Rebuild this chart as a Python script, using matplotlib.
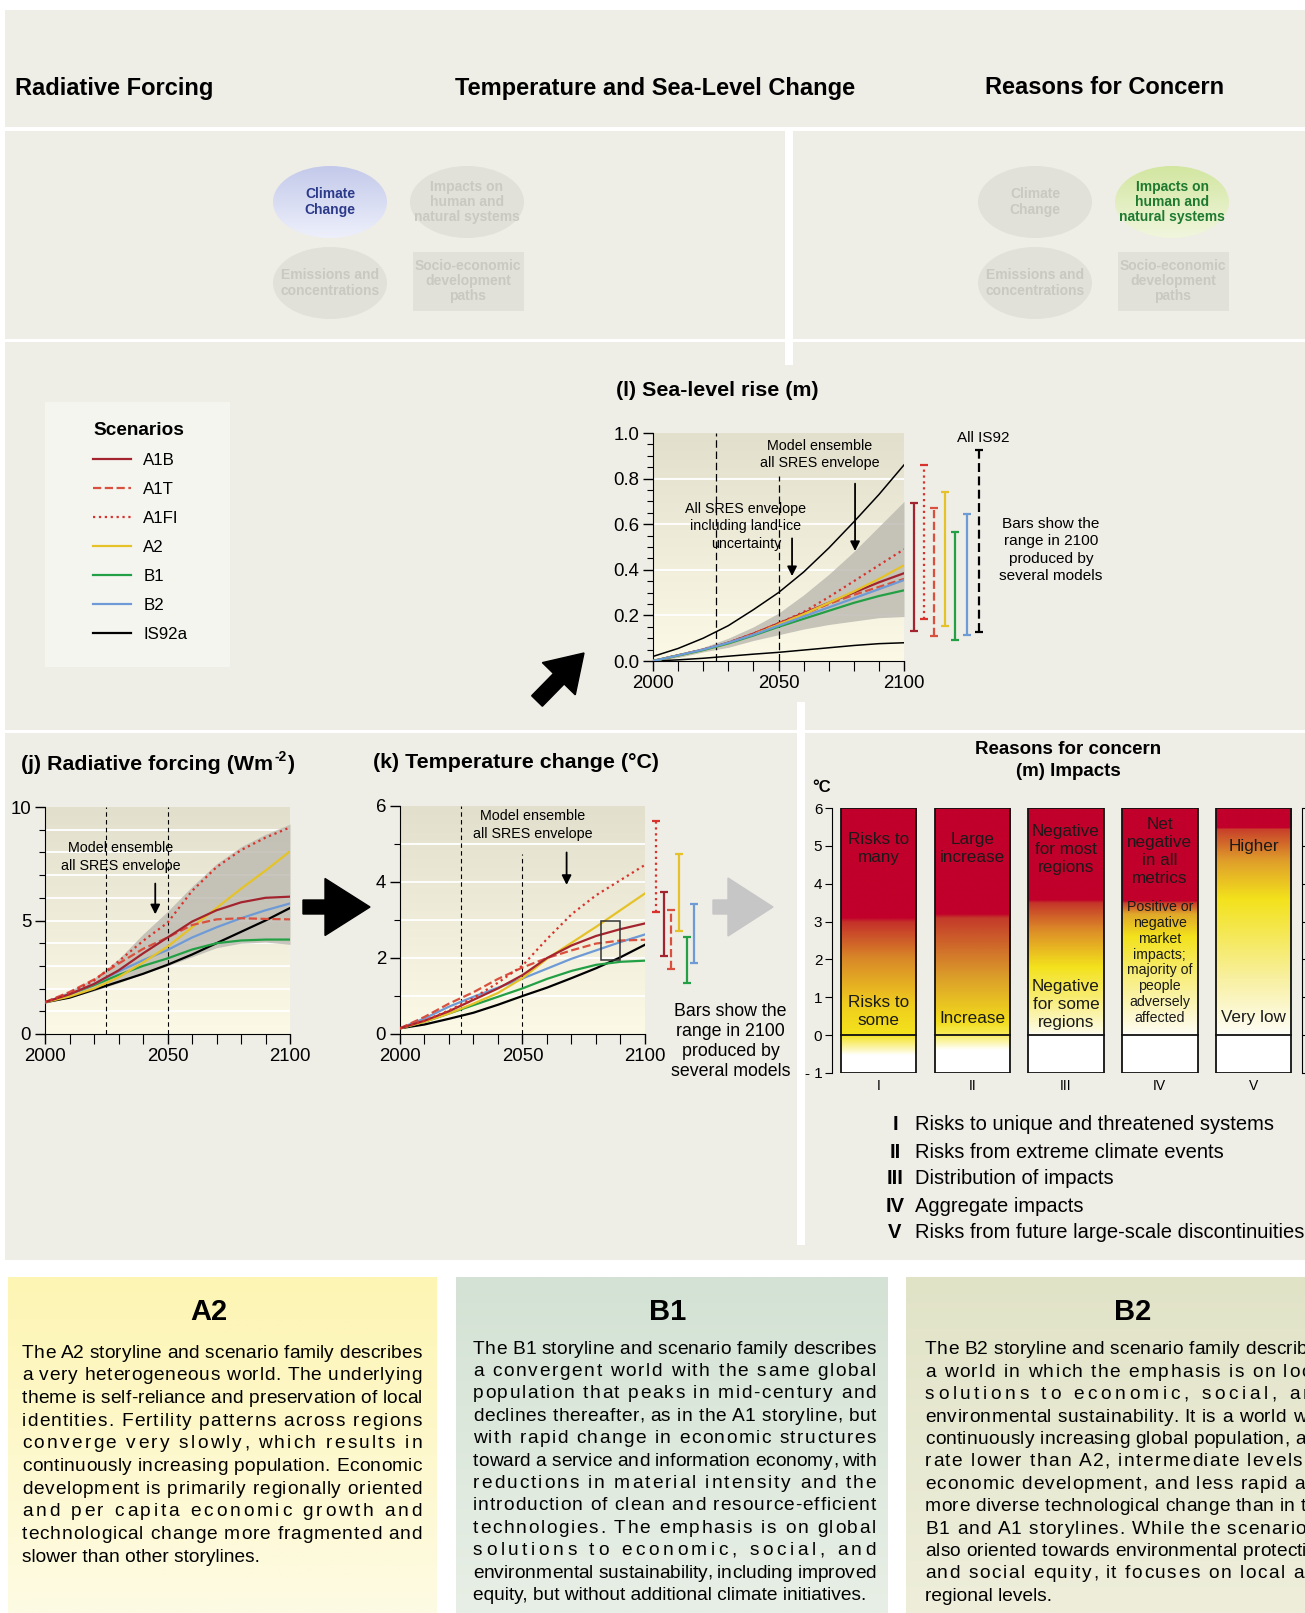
import numpy as np
import matplotlib
matplotlib.use('Agg')
import matplotlib.pyplot as plt
from matplotlib import font_manager
from matplotlib.patches import Rectangle, Ellipse, FancyArrow
from matplotlib.colors import LinearSegmentedColormap

plt.rcParams['font.family'] = ['Liberation Sans', 'DejaVu Sans']
installed = {f.name for f in font_manager.fontManager.ttflist}
NARROW = 'Liberation Sans Narrow' if 'Liberation Sans Narrow' in installed else 'Liberation Sans'

W, H = 1305, 1613

# ---------------------------------------------------------------- data
YEARS = [2000, 2010, 2020, 2030, 2040, 2050, 2060, 2070, 2080, 2090, 2100]
SCENARIOS = ['A1B', 'A1T', 'A1FI', 'A2', 'B1', 'B2', 'IS92a']

# (j) radiative forcing, W m-2
RF_A1B = [1.4, 1.75, 2.2, 2.8, 3.55, 4.25, 4.95, 5.45, 5.8, 6.0, 6.05]
RF_A1T = [1.4, 1.85, 2.4, 3.1, 3.75, 4.25, 4.8, 5.05, 5.1, 5.07, 5.05]
RF_A1FI = [1.4, 1.8, 2.35, 3.2, 4.1, 4.9, 6.3, 7.35, 8.1, 8.65, 9.1]
RF_A2 = [1.4, 1.65, 2.0, 2.5, 3.15, 3.85, 4.7, 5.55, 6.4, 7.2, 8.05]
RF_B1 = [1.4, 1.75, 2.15, 2.6, 3.0, 3.33, 3.72, 4.0, 4.12, 4.16, 4.16]
RF_B2 = [1.4, 1.75, 2.2, 2.75, 3.25, 3.7, 4.25, 4.7, 5.1, 5.45, 5.75]
RF_IS92A = [1.4, 1.6, 1.95, 2.3, 2.65, 3.05, 3.5, 4.0, 4.5, 5.0, 5.55]
RF_ENV_HI = [1.45, 1.9, 2.45, 3.3, 4.4, 5.4, 6.5, 7.5, 8.25, 8.8, 9.25]
RF_ENV_LO = [1.35, 1.6, 1.9, 2.25, 2.65, 3.0, 3.4, 3.8, 4.0, 4.05, 3.95]

# (k) temperature change, deg C
T_A1B = [0.15, 0.35, 0.6, 0.9, 1.2, 1.55, 2.0, 2.33, 2.58, 2.76, 2.91]
T_A1T = [0.15, 0.45, 0.8, 1.1, 1.45, 1.75, 2.0, 2.2, 2.38, 2.46, 2.48]
T_A1FI = [0.15, 0.35, 0.62, 0.95, 1.35, 1.8, 2.5, 3.15, 3.65, 4.05, 4.45]
T_A2 = [0.15, 0.32, 0.54, 0.8, 1.08, 1.47, 1.98, 2.4, 2.82, 3.26, 3.7]
T_B1 = [0.15, 0.32, 0.54, 0.76, 0.98, 1.2, 1.45, 1.66, 1.82, 1.9, 1.93]
T_B2 = [0.15, 0.41, 0.72, 0.98, 1.22, 1.46, 1.72, 1.98, 2.2, 2.42, 2.62]
T_IS92A = [0.15, 0.25, 0.4, 0.56, 0.77, 1.0, 1.22, 1.47, 1.73, 2.02, 2.35]
# 2100 ranges
T_BAR_NAMES = ['A1FI', 'A1B', 'A1T', 'A2', 'B1', 'B2']
T_BAR_HI = [5.61, 3.75, 3.26, 4.74, 2.55, 3.41]
T_BAR_LO = [3.21, 2.04, 1.72, 2.72, 1.33, 1.88]
T_BOX = [2082, 2090, 1.95, 2.98]

# (l) sea-level rise, m
SL_A1B = [0, 0.025, 0.05, 0.08, 0.12, 0.165, 0.21, 0.255, 0.30, 0.345, 0.385]
SL_A1T = [0, 0.025, 0.05, 0.08, 0.12, 0.165, 0.205, 0.25, 0.29, 0.325, 0.36]
SL_A1FI = [0, 0.025, 0.05, 0.08, 0.12, 0.165, 0.215, 0.28, 0.35, 0.42, 0.49]
SL_A2 = [0, 0.024, 0.048, 0.077, 0.115, 0.16, 0.205, 0.255, 0.305, 0.36, 0.42]
SL_B1 = [0, 0.024, 0.048, 0.077, 0.112, 0.15, 0.185, 0.22, 0.255, 0.285, 0.31]
SL_B2 = [0, 0.025, 0.05, 0.08, 0.115, 0.155, 0.195, 0.235, 0.275, 0.315, 0.355]
SL_ENV_HI = [0.01, 0.03, 0.06, 0.10, 0.15, 0.21, 0.29, 0.38, 0.48, 0.59, 0.70]
SL_ENV_LO = [0.0, 0.015, 0.04, 0.06, 0.09, 0.115, 0.14, 0.16, 0.175, 0.19, 0.195]
SL_ICE_HI = [0.02, 0.055, 0.10, 0.155, 0.225, 0.30, 0.39, 0.495, 0.61, 0.73, 0.86]
SL_ICE_LO = [0.0, 0.005, 0.012, 0.021, 0.03, 0.038, 0.048, 0.058, 0.068, 0.076, 0.08]
SL_BAR_NAMES = ['A1B', 'A1FI', 'A1T', 'A2', 'B1', 'B2', 'IS92a']
SL_BAR_HI = [0.695, 0.858, 0.67, 0.742, 0.565, 0.644, 0.925]
SL_BAR_LO = [0.13, 0.183, 0.11, 0.154, 0.092, 0.113, 0.129]

# (m) reasons for concern
RFC_LABELS = ['I', 'II', 'III', 'IV', 'V']
RFC_TOP_TEXT = ['Risks to\nmany', 'Large\nincrease', 'Negative\nfor most\nregions',
                'Net\nnegative\nin all\nmetrics', 'Higher']
RFC_TOP_Y = [4.93, 4.93, 4.9, 4.86, 4.97]
RFC_LOW_TEXT = ['Risks to\nsome', 'Increase', 'Negative\nfor some\nregions',
                'Positive or\nnegative\nmarket\nimpacts;\nmajority of\npeople\nadversely\naffected',
                'Very low']
RFC_LOW_Y = [0.63, 0.45, 0.8, 1.92, 0.47]
# colour stops (deg C, colour) for each bar
RFC_STOPS = [
    [(-1, '#ffffff'), (-0.55, '#ffffff'), (0, '#f4e31c'), (0.8, '#efcd1e'), (2.0, '#d98a28'), (3.0, '#c4302a'), (3.1, '#c1002b'), (6, '#c1002b')],
    [(-1, '#ffffff'), (-0.4, '#ffffff'), (0, '#f7ec5a'), (0.35, '#f2dc1c'), (1.5, '#dca02a'), (3.1, '#c43a2a'), (3.2, '#c1002b'), (6, '#c1002b')],
    [(-1, '#ffffff'), (0, '#ffffff'), (0.05, '#fdfbe6'), (1.0, '#f8ec70'), (1.8, '#f3e21c'), (2.8, '#dc8a28'), (3.5, '#c4352a'), (3.58, '#c1002b'), (6, '#c1002b')],
    [(-1, '#ffffff'), (0, '#ffffff'), (0.05, '#fefcf0'), (1.5, '#f8ee80'), (2.6, '#f3e21c'), (3.2, '#e0a82a'), (3.5, '#c8402a'), (3.55, '#c1002b'), (6, '#c1002b')],
    [(-1, '#ffffff'), (0, '#ffffff'), (0.05, '#fefdf4'), (1.5, '#f8f0a0'), (3.6, '#f3e21c'), (4.6, '#e0a02a'), (5.45, '#c8402a'), (5.5, '#c1002b'), (6, '#c1002b')],
]
RFC_LIST = ['Risks to unique and threatened systems', 'Risks from extreme climate events',
            'Distribution of impacts', 'Aggregate impacts',
            'Risks from future large-scale discontinuities']

A2_TEXT = [
    'The A2 storyline and scenario family describes',
    'a very heterogeneous world. The underlying',
    'theme is self-reliance and preservation of local',
    'identities. Fertility patterns across regions',
    'converge very slowly, which results in',
    'continuously increasing population. Economic',
    'development is primarily regionally oriented',
    'and per capita economic growth and',
    'technological change more fragmented and',
    'slower than other storylines.',
]
B1_TEXT = [
    'The B1 storyline and scenario family describes',
    'a convergent world with the same global',
    'population that peaks in mid-century and',
    'declines thereafter, as in the A1 storyline, but',
    'with rapid change in economic structures',
    'toward a service and information economy, with',
    'reductions in material intensity and the',
    'introduction of clean and resource-efficient',
    'technologies. The emphasis is on global',
    'solutions to economic, social, and',
    'environmental sustainability, including improved',
    'equity, but without additional climate initiatives.',
]
B2_TEXT = [
    'The B2 storyline and scenario family describes',
    'a world in which the emphasis is on local',
    'solutions to economic, social, and',
    'environmental sustainability. It is a world with',
    'continuously increasing global population, at a',
    'rate lower than A2, intermediate levels of',
    'economic development, and less rapid and',
    'more diverse technological change than in the',
    'B1 and A1 storylines. While the scenario is',
    'also oriented towards environmental protection',
    'and social equity, it focuses on local and',
    'regional levels.',
]

STYLE = {
    'A1B': ('#a3242f', '-'),
    'A1T': ('#d9503f', '--'),
    'A1FI': ('#d9322c', ':'),
    'A2': ('#e6c229', '-'),
    'B1': ('#23a045', '-'),
    'B2': ('#6e9ad6', '-'),
    'IS92a': ('black', '-'),
}
PANEL = '#eeede6'
GREY_TXT = '#c9c8c1'
GREY_FILL = '#e1e0d9'

# ---------------------------------------------------------------- figure
fig = plt.figure(figsize=(W / 100, H / 100), dpi=100)
bg = fig.add_axes([0, 0, 1, 1])
bg.set_xlim(0, W)
bg.set_ylim(H, 0)
bg.axis('off')
bg.set_autoscale_on(False)
renderer = fig.canvas.get_renderer()


def rect(x0, y0, x1, y1):
    return [x0 / W, 1 - y1 / H, (x1 - x0) / W, (y1 - y0) / H]


def vgrad(ax, extent, top, bottom, clip=None, zorder=0):
    cmap = LinearSegmentedColormap.from_list('g', [top, bottom])
    im = ax.imshow(np.linspace(0, 1, 256).reshape(-1, 1), cmap=cmap, extent=extent,
                   aspect='auto', origin='upper', zorder=zorder, interpolation='bilinear')
    if clip is not None:
        im.set_clip_path(clip)
    return im


# panels and white separators
bg.add_patch(Rectangle((5, 10), W - 5, 1250, fc=PANEL, ec='none', zorder=0))
for x0, y0, x1, y1 in [(5, 127, W, 131), (5, 339, W, 342), (5, 730, W, 733),
                       (785, 131, 793, 365), (797, 702, 805, 1245)]:
    bg.add_patch(Rectangle((x0, y0), x1 - x0, y1 - y0, fc='white', ec='none', zorder=0.5))

# headers
for x, txt, ha in [(15, 'Radiative Forcing', 'left'), (655, 'Temperature and Sea-Level Change', 'center'),
                   (1105, 'Reasons for Concern', 'center')]:
    bg.text(x, 88, txt, fontsize=17, fontweight='bold', ha=ha, va='center')

FLOW_FS = 11.5 if NARROW != 'Liberation Sans' else 10


# flow diagrams
def flow(x_off, active):
    cells = [('Climate\nChange', 330, 202), ('Impacts on\nhuman and\nnatural systems', 467, 202),
             ('Emissions and\nconcentrations', 330, 283)]
    for name, cx, cy in cells:
        cx += x_off
        e = Ellipse((cx, cy), 114, 72, fc=GREY_FILL, ec='none', zorder=1)
        bg.add_patch(e)
        col = GREY_TXT
        if name.startswith('Climate') and active == 'climate':
            e.set_facecolor('none')
            vgrad(bg, (cx - 57, cx + 57, cy + 36, cy - 36), '#c3c9ea', '#eef0fb', clip=e, zorder=1)
            col = '#2c3a8a'
        if name.startswith('Impacts') and active == 'impacts':
            e.set_facecolor('none')
            vgrad(bg, (cx - 57, cx + 57, cy + 36, cy - 36), '#d2e6a0', '#f1f6de', clip=e, zorder=1)
            col = '#1d7a2e'
        bg.text(cx, cy, name, fontsize=FLOW_FS, fontweight='bold', color=col, ha='center', va='center',
                linespacing=1.1, zorder=2, family=[NARROW, 'DejaVu Sans'])
    bg.add_patch(Rectangle((413 + x_off, 252), 111, 59, fc=GREY_FILL, ec='none', zorder=1))
    bg.text(468 + x_off, 281, 'Socio-economic\ndevelopment\npaths', fontsize=FLOW_FS, fontweight='bold',
            color=GREY_TXT, ha='center', va='center', linespacing=1.1, zorder=2,
            family=[NARROW, 'DejaVu Sans'])


flow(0, 'climate')
flow(705, 'impacts')

# legend box
bg.add_patch(Rectangle((45, 402), 185, 265, fc='#f5f5f0', ec='none', zorder=1))


def chart(px, ylim, major, labels, minor, grid):
    ax = fig.add_axes(rect(*px))
    ax.set_facecolor('none')
    vgrad(ax, (2000, 2100, ylim[0], ylim[1]), '#e2dfcc', '#fcfae7')
    for g in grid:
        ax.axhline(g, color='white', lw=1.3, zorder=0.5)
    for s in ['top', 'right']:
        ax.spines[s].set_visible(False)
    ax.set_xticks([2000, 2050, 2100])
    ax.set_xticks(range(2000, 2101, 10), minor=True)
    ax.set_yticks(major, labels)
    ax.set_yticks(minor, minor=True)
    ax.tick_params(direction='out', labelsize=13.4, length=7, width=1, pad=3)
    ax.tick_params(which='minor', direction='out', length=4, width=0.8)
    ax.tick_params(axis='x', which='minor', length=7)
    return ax


def draw_lines(ax, series):
    for name, vals in series:
        c, ls = STYLE[name]
        ax.plot(YEARS, vals, color=c, ls=ls, lw=1.6, label=name, zorder=3)


def arrow_down(ax, x, y0, y1):
    ax.annotate('', xy=(x, y1), xytext=(x, y0),
                arrowprops=dict(arrowstyle='-|>', color='k', lw=1.3, mutation_scale=14), zorder=4)


DASH = (0, (4, 3))

# ---- (j) radiative forcing
ax_j = chart((45, 807, 290, 1034), (0, 10), [0, 5, 10], ['0', '5', '10'], range(0, 11), range(1, 10))
ax_j.fill_between(YEARS, RF_ENV_LO, RF_ENV_HI, color='#bebcb2', alpha=0.85, lw=0, zorder=1)
ax_j.axvline(2025, color='k', lw=0.8, ls=DASH, zorder=1.5)
ax_j.axvline(2050, color='k', lw=0.8, ls=DASH, zorder=1.5)
draw_lines(ax_j, [('IS92a', RF_IS92A), ('B1', RF_B1), ('B2', RF_B2), ('A2', RF_A2),
                  ('A1T', RF_A1T), ('A1B', RF_A1B), ('A1FI', RF_A1FI)])
ax_j.text(2031, 7.8, 'Model ensemble\nall SRES envelope', fontsize=10.3, ha='center', va='center',
          linespacing=1.3, zorder=4)
arrow_down(ax_j, 2045, 6.75, 5.15)
ax_j.set_xlim(2000, 2100)
ax_j.set_ylim(0, 10)
tj = bg.text(21, 765, '(j) Radiative forcing (Wm', fontsize=15.4, fontweight='bold', va='center')
wj = tj.get_window_extent(renderer).width
bg.text(22 + wj, 757, '-2', fontsize=10, fontweight='bold', va='center')
bg.text(35 + wj, 765, ')', fontsize=15.4, fontweight='bold', va='center')

# ---- (k) temperature change
ax_k = chart((400, 806, 645, 1034), (0, 6), [0, 2, 4, 6], ['0', '2', '4', '6'], range(0, 7), range(1, 6))
ax_k.axvline(2025, color='k', lw=0.8, ls=DASH, zorder=1.5)
ax_k.axvline(2050, ymax=0.79, color='k', lw=0.8, ls=DASH, zorder=1.5)
draw_lines(ax_k, [('IS92a', T_IS92A), ('B1', T_B1), ('B2', T_B2), ('A2', T_A2),
                  ('A1T', T_A1T), ('A1B', T_A1B), ('A1FI', T_A1FI)])
ax_k.add_patch(Rectangle((T_BOX[0], T_BOX[2]), T_BOX[1] - T_BOX[0], T_BOX[3] - T_BOX[2],
                         fill=False, ec='#333333', lw=1.1, zorder=4))
ax_k.text(2054.3, 5.5, 'Model ensemble\nall SRES envelope', fontsize=10.3, ha='center', va='center',
          linespacing=1.3, zorder=4)
arrow_down(ax_k, 2068, 4.85, 3.85)
for i, (name, lo, hi) in enumerate(zip(T_BAR_NAMES, T_BAR_LO, T_BAR_HI)):
    c, ls = STYLE[name]
    xb = 2104.6 + 3.1 * i
    ax_k.vlines(xb, lo, hi, colors=c, linestyles=ls, lw=1.6, clip_on=False)
    ax_k.plot([xb, xb], [lo, hi], ls='none', marker='_', ms=6, mew=1.6, color=c, clip_on=False)
ax_k.text(2135, -0.2, 'Bars show the\nrange in 2100\nproduced by\nseveral models', fontsize=12.8,
          ha='center', va='center', linespacing=1.25, clip_on=False)
ax_k.set_xlim(2000, 2100)
ax_k.set_ylim(0, 6)
bg.text(373, 763, '(k) Temperature change (°C)', fontsize=15.4, fontweight='bold', va='center')

# ---- (l) sea-level rise
ax_l = chart((653, 433, 904, 661), (0, 1.0), [0, 0.2, 0.4, 0.6, 0.8, 1.0],
             ['0.0', '0.2', '0.4', '0.6', '0.8', '1.0'], np.arange(0, 1.001, 0.05), [0.2, 0.4, 0.6, 0.8])
ax_l.fill_between(YEARS, SL_ENV_LO, SL_ENV_HI, color='#bebcb2', alpha=0.85, lw=0, zorder=1)
ax_l.plot(YEARS, SL_ICE_HI, color='k', lw=1.1, zorder=3)
ax_l.plot(YEARS, SL_ICE_LO, color='k', lw=1.1, zorder=3)
ax_l.axvline(2025, color='k', lw=0.9, ls=(0, (6, 3)), zorder=1.5)
ax_l.axvline(2050, ymax=0.81, color='k', lw=0.9, ls=(0, (6, 3)), zorder=1.5)
draw_lines(ax_l, [('A1B', SL_A1B), ('A1T', SL_A1T), ('A1FI', SL_A1FI), ('A2', SL_A2),
                  ('B1', SL_B1), ('B2', SL_B2)])
ax_l.text(2066.5, 0.905, 'Model ensemble\nall SRES envelope', fontsize=10.3, ha='center', va='center',
          linespacing=1.3, zorder=4)
arrow_down(ax_l, 2080.5, 0.79, 0.47)
ax_l.text(2037, 0.59, 'All SRES envelope\nincluding land-ice\nuncertainty', fontsize=10.3, ha='center',
          va='center', linespacing=1.28, zorder=2.5)
arrow_down(ax_l, 2055.4, 0.55, 0.36)
sl_x = [2104, 2108, 2112, 2116.3, 2120.3, 2125, 2130]
for xb, name, lo, hi in zip(sl_x, SL_BAR_NAMES, SL_BAR_LO, SL_BAR_HI):
    c, ls = STYLE[name]
    if name == 'IS92a':
        ls = (0, (4, 2))
    ax_l.vlines(xb, lo, hi, colors=c, linestyles=ls, lw=1.6, clip_on=False)
    ax_l.plot([xb, xb], [lo, hi], ls='none', marker='_', ms=6, mew=1.6, color=c, clip_on=False)
ax_l.text(2131.5, 0.98, 'All IS92', fontsize=11, ha='center', va='center', clip_on=False)
ax_l.text(2158.6, 0.487, 'Bars show the\nrange in 2100\nproduced by\nseveral models', fontsize=11.1,
          ha='center', va='center', linespacing=1.32, clip_on=False)
ax_l.set_xlim(2000, 2100)
ax_l.set_ylim(0, 1.0)
bg.text(616, 391, '(l) Sea-level rise (m)', fontsize=15.4, fontweight='bold', va='center')

# legend
handles, names = ax_l.get_legend_handles_labels()
is92 = [ln for ln in ax_j.get_lines() if ln.get_label() == 'IS92a'][0]
fig.legend(handles + [is92], names + ['IS92a'], loc='upper left', bbox_to_anchor=(85 / W, 1 - 414 / H),
           frameon=False, title='Scenarios', alignment='left', fontsize=12.2,
           title_fontproperties={'weight': 'bold', 'size': 13.7}, handlelength=2.2,
           handletextpad=0.75, labelspacing=0.82, borderpad=0)

# arrows between panels
bg.add_patch(FancyArrow(303, 907, 67, 0, width=14, head_width=57, head_length=45,
                        length_includes_head=True, color='black', zorder=2))
bg.add_patch(FancyArrow(713, 907, 60, 0, width=14, head_width=58, head_length=45,
                        length_includes_head=True, color='#c6c6c6', zorder=2))
bg.add_patch(FancyArrow(537, 701, 47, -48, width=15, head_width=46, head_length=36,
                        length_includes_head=True, color='black', zorder=2))

# ---- (m) reasons for concern
bg.text(1068, 749, 'Reasons for concern', fontsize=13.5, fontweight='bold', ha='center', va='center')
bg.text(1068, 772, '(m) Impacts', fontsize=13.5, fontweight='bold', ha='center', va='center')
bg.text(812, 787, '°C', fontsize=12, fontweight='bold', ha='left', va='center')
ax_m = fig.add_axes(rect(832, 808, W, 1073))
ax_m.set_facecolor('none')
bw = 0.805
for i, stops in enumerate(RFC_STOPS):
    cmap = LinearSegmentedColormap.from_list('r%d' % i, [((t + 1) / 7, c) for t, c in stops])
    ax_m.imshow(np.linspace(-1, 6, 500).reshape(-1, 1), cmap=cmap, vmin=-1, vmax=6, origin='lower',
                extent=(i - bw / 2, i + bw / 2, -1, 6), aspect='auto', interpolation='bilinear', zorder=1)
    ax_m.add_patch(Rectangle((i - bw / 2, -1), bw, 7, fill=False, ec='#111111', lw=1.3, zorder=3))
    ax_m.plot([i - bw / 2, i + bw / 2], [0, 0], color='#111111', lw=1.3, zorder=3)
    ax_m.text(i, RFC_TOP_Y[i], RFC_TOP_TEXT[i], fontsize=12.3, ha='center', va='center',
              linespacing=1.25, color='#1a1a1a', zorder=4)
    fs = 10.2 if i == 3 else 12.3
    ax_m.text(i, RFC_LOW_Y[i], RFC_LOW_TEXT[i], fontsize=fs, ha='center', va='center',
              linespacing=1.17 if i == 3 else 1.25, color='#1a1a1a', zorder=4)
ax_m.set_xlim(-0.496, 4.549)
ax_m.set_ylim(-1, 6)
for s in ['top', 'right', 'bottom']:
    ax_m.spines[s].set_visible(False)
ax_m.set_yticks(range(-1, 7), ['- 1', '0', '1', '2', '3', '4', '5', '6'])
ax_m.set_xticks(range(5), RFC_LABELS)
ax_m.tick_params(axis='y', direction='out', length=5, labelsize=11, pad=2)
ax_m.tick_params(axis='x', length=0, labelsize=10, pad=4)

ax_n = fig.add_axes(rect(1302, 808, 1400, 1073))
ax_n.set_facecolor('none')
ax_n.set_ylim(-1, 6)
for s in ['top', 'right', 'bottom']:
    ax_n.spines[s].set_visible(False)
ax_n.set_yticks(range(-1, 7), [''] * 8)
ax_n.set_xticks([])
ax_n.tick_params(axis='y', direction='in', length=4)

for k, (num, txt) in enumerate(zip(RFC_LABELS, RFC_LIST)):
    y = 1125 + k * 27
    bg.text(895, y, num, fontsize=14.5, fontweight='bold', ha='center', va='center')
    bg.text(915, y, txt, fontsize=14.5, ha='left', va='center')


# ---- storyline boxes: justified by letter spacing
def justify(lines, x0, x1, y0, dy, fs):
    probe = bg.text(0, 0, 'x', fontsize=fs)

    def width(s):
        probe.set_text(s)
        return probe.get_window_extent(renderer).width

    wx = width('x')
    for k, line in enumerate(lines):
        y = y0 + k * dy
        if k == len(lines) - 1:
            bg.text(x0, y, line, fontsize=fs, ha='left', va='center', zorder=3)
            continue
        offs = [0.0] + [width(line[:i] + 'x') - wx for i in range(1, len(line))]
        extra = (x1 - x0 - width(line)) / (len(line) - 1)
        for i, ch in enumerate(line):
            if ch != ' ':
                bg.text(x0 + offs[i] + i * extra, y, ch, fontsize=fs, ha='left', va='center', zorder=3)
    probe.remove()


boxes = [(8, 437, '#fdf5b3', '#fdfbe4', 'A2', 209, A2_TEXT, 22, 422, 1353, 22.7),
         (456, 888, '#d3e2d4', '#e8efe6', 'B1', 668, B1_TEXT, 473, 876, 1349, 22.4),
         (906, W, '#e1e3c7', '#eeeedb', 'B2', 1133, B2_TEXT, 925, 1328, 1350, 22.4)]
for bx0, bx1, ctop, cbot, title, tcx, lines, tx0, tx1, ty0, tdy in boxes:
    vgrad(bg, (bx0, bx1, H, 1277), ctop, cbot, zorder=1)
    bg.text(tcx, 1312, title, fontsize=21, fontweight='bold', ha='center', va='center', zorder=3)
    justify(lines, tx0, tx1, ty0, tdy, 13.8)

bg.set_xlim(0, W)
bg.set_ylim(H, 0)
fig.savefig('out.png', dpi=100, facecolor='white')
